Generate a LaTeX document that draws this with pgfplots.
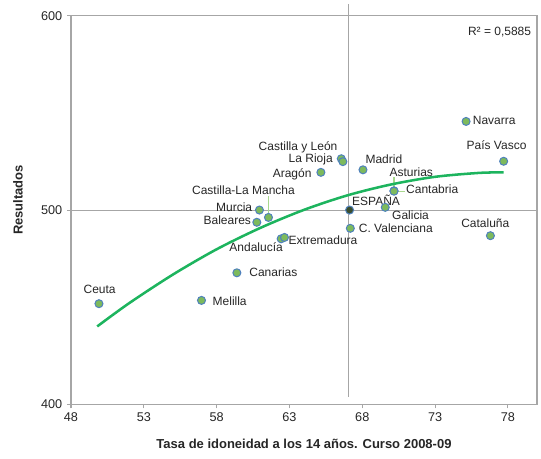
\documentclass[border=0pt]{standalone}
\usepackage{pgfplots}
\pgfplotsset{compat=1.18}
\usepackage{fontspec}
\setmainfont{Liberation Sans}
\definecolor{ptfill}{HTML}{7DBA5C}
\definecolor{ptedge}{HTML}{4F81BD}
\definecolor{esfill}{HTML}{3A4E2E}
\definecolor{trend}{HTML}{1DB45E}
\definecolor{framec}{HTML}{A6A6A6}
\definecolor{leader}{HTML}{A8D88E}
\begin{document}
\begin{tikzpicture}
\begin{axis}[
  scale only axis,
  width=349.5pt, height=291.45pt,
  xmin=48, xmax=80, ymin=400, ymax=600,
  xtick={48,53,58,63,68,73,78},
  ytick={400,500,600},
  tick align=outside,
  xtick pos=bottom, ytick pos=left,
  major tick length=3pt,
  axis line style={framec, line width=0.8pt},
  tick style={framec, line width=0.8pt},
  /pgf/number format/assume math mode=true,
  /pgf/number format/1000 sep={},
  ticklabel style={font=\fontsize{9.5}{11}\selectfont, text=black!85},
  clip=false,
  xlabel={Tasa de idoneidad a los 14 años. Curso 2008-09},
  ylabel={Resultados},
  xlabel style={at={(axis description cs:0.5,-0.102)}, anchor=center, font=\fontsize{9.75}{11}\selectfont\bfseries, text=black!85},
  ylabel style={at={(axis description cs:-0.1137,0.526)}, anchor=center, rotate=0, font=\fontsize{9.75}{11}\selectfont\bfseries, text=black!85},
  every node near coord/.style={},
]
\coordinate (SW) at (rel axis cs:0,0);
\coordinate (NE) at (rel axis cs:1,1);
% reference lines
\addplot[framec, line width=0.8pt] coordinates {(48,500) (80,500)};
\addplot[framec, line width=0.8pt] coordinates {(67.05,403.9) (67.05,606)};
% leader lines
\draw[leader, line width=0.8pt] (axis cs:61.56,507) -- (axis cs:61.56,498.3);
\draw[leader, line width=0.8pt] (axis cs:70.18,516.8) -- (axis cs:70.18,511.6);
\draw[leader, line width=0.8pt] (axis cs:70.35,509.7) -- (axis cs:70.95,509.7);
% trend
\addplot[trend, line width=1.9pt, smooth] coordinates {
 (49.8,440.1) (52,452.1) (55,466.8) (58,479.8) (61,490.8) (64,500.1)
 (67,507.6) (70,513.2) (73,517.1) (76,519.1) (77.7,519.4)};
% regions
\addplot[only marks, mark=*, mark size=3pt, mark options={fill=ptfill, draw=ptedge, line width=0.75pt}] coordinates {
 (49.92,451.8) (56.96,453.5) (59.39,467.7) (62.43,485.2) (62.66,485.9)
 (60.76,493.7) (61.56,496.2) (60.94,500.0) (67.18,490.6) (69.58,501.4)
 (70.18,509.9) (70.18,509.7) (65.16,519.4) (66.56,526.4) (66.67,524.9)
 (68.05,520.7) (75.13,545.6) (77.71,525.1) (76.80,486.8)};
% Spain
\addplot[only marks, mark=*, mark size=3pt, mark options={fill=esfill, draw=ptedge, line width=0.75pt}] coordinates {(67.13,500)};
% labels
\begin{scope}[every node/.style={font=\fontsize{9}{10}\selectfont, text=black!85, inner sep=0pt, anchor=west}]
\node at (axis cs:60.87,532.3) {Castilla y León};
\node at (axis cs:62.93,526.2) {La Rioja};
\node at (axis cs:68.21,526.2) {Madrid};
\node at (axis cs:61.84,518.4) {Aragón};
\node at (axis cs:56.30,510.3) {Castilla-La Mancha};
\node at (axis cs:57.95,501.7) {Murcia};
\node at (axis cs:57.09,494.9) {Baleares};
\node at (axis cs:67.29,504.8) {ESPAÑA};
\node at (axis cs:70.04,497.4) {Galicia};
\node at (axis cs:67.75,490.6) {C. Valenciana};
\node at (axis cs:62.93,484.6) {Extremadura};
\node at (axis cs:58.86,480.8) {Andalucía};
\node at (axis cs:69.86,519.7) {Asturias};
\node at (axis cs:71.00,510.7) {Cantabria};
\node at (axis cs:75.58,546.0) {Navarra};
\node at (axis cs:75.15,533.5) {País Vasco};
\node at (axis cs:74.78,493.2) {Cataluña};
\node at (axis cs:48.85,459.3) {Ceuta};
\node at (axis cs:57.71,453.2) {Melilla};
\node at (axis cs:60.23,468.2) {Canarias};
\node[anchor=east] at (axis cs:79.61,591.8) {R² = 0,5885};
\end{scope}
\end{axis}
\pgfresetboundingbox
\path ([shift={(-53.25pt,-40.3pt)}]SW) rectangle ([shift={(3pt,11.8pt)}]NE);
\end{tikzpicture}
\end{document}
